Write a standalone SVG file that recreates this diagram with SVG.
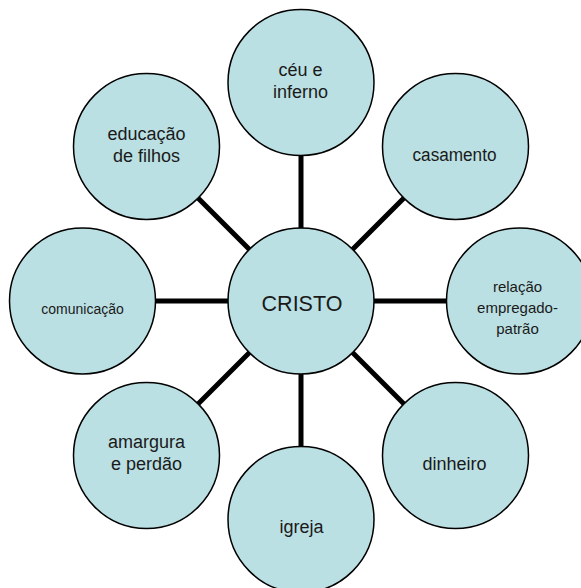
<svg xmlns="http://www.w3.org/2000/svg" width="581" height="588" viewBox="0 0 581 588">
<style>
.c{fill:#BBE0E3;stroke:#000;stroke-width:1.5}
.t{font-family:"Liberation Sans",Arial,sans-serif;font-size:18px;fill:#1a1a1a;text-anchor:middle}
.s{font-size:14px}
.r{font-size:15px}
.b{font-size:21.5px}
.l{stroke:#000;stroke-width:5;fill:none}
</style>
<rect width="581" height="588" fill="#fff"/>
<g id="connectors">
<line class="l" x1="301" y1="301" x2="301" y2="82.5"/>
<line class="l" x1="301" y1="301" x2="455.5" y2="146.5"/>
<line class="l" x1="301" y1="301" x2="519.5" y2="301"/>
<line class="l" x1="301" y1="301" x2="455.5" y2="455.5"/>
<line class="l" x1="301" y1="301" x2="301" y2="519.5"/>
<line class="l" x1="301" y1="301" x2="146.5" y2="455.5"/>
<line class="l" x1="301" y1="301" x2="82.5" y2="301"/>
<line class="l" x1="301" y1="301" x2="146.5" y2="146.5"/>
</g>
<g id="ceu">
<circle class="c" cx="301" cy="82.5" r="73"/>
<text class="t" x="300.5" y="76">céu e</text>
<text class="t" x="300.5" y="97.5">inferno</text>
</g>
<g id="casamento">
<circle class="c" cx="455.5" cy="146.5" r="73"/>
<text class="t" x="454.5" y="160.5" textLength="84" lengthAdjust="spacingAndGlyphs">casamento</text>
</g>
<g id="relacao">
<circle class="c" cx="519.5" cy="301" r="73"/>
<text class="t r" x="517.5" y="292">relação</text>
<text class="t r" x="517.5" y="313">empregado-</text>
<text class="t r" x="517.5" y="334">patrão</text>
</g>
<g id="dinheiro">
<circle class="c" cx="455.5" cy="455.5" r="73"/>
<text class="t" x="454.5" y="470">dinheiro</text>
</g>
<g id="igreja">
<circle class="c" cx="301" cy="519.5" r="73"/>
<text class="t" x="301.5" y="532.5">igreja</text>
</g>
<g id="amargura">
<circle class="c" cx="146.5" cy="455.5" r="73"/>
<text class="t" x="146.5" y="447.5">amargura</text>
<text class="t" x="146.5" y="470">e perdão</text>
</g>
<g id="comunicacao">
<circle class="c" cx="82.5" cy="301" r="73"/>
<text class="t s" x="82.5" y="314">comunicação</text>
</g>
<g id="educacao">
<circle class="c" cx="146.5" cy="146.5" r="73"/>
<text class="t" x="146.5" y="140">educação</text>
<text class="t" x="146.5" y="161.5">de filhos</text>
</g>
<g id="cristo">
<circle class="c" cx="301" cy="301" r="73"/>
<text class="t b" x="302" y="310.5">CRISTO</text>
</g>
</svg>
